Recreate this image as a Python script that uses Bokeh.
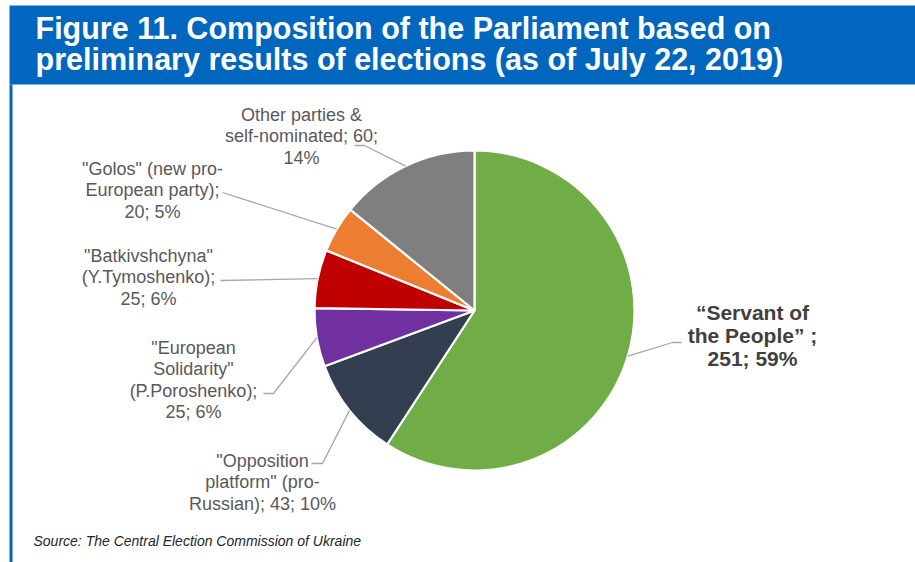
import math
from bokeh.plotting import figure
from bokeh.models import Range1d, ColumnDataSource
from bokeh.core.properties import value
from bokeh.embed import file_html
from bokeh.resources import INLINE

# ---------------- data ----------------
parties = ['"Servant of the People"', '"Opposition platform" (pro-Russian)',
           '"European Solidarity" (P.Poroshenko)', '"Batkivshchyna" (Y.Tymoshenko)',
           '"Golos" (new pro-European party)', 'Other parties & self-nominated']
seats = [251, 43, 25, 25, 20, 60]
colors = ["#70AD47", "#333F50", "#7030A0", "#C00000", "#ED7D31", "#7F7F7F"]
label_lines = [
    ["\u201cServant of", "the People\u201d ;", "251; 59%"],
    ['"Opposition', 'platform" (pro-', 'Russian); 43; 10%'],
    ['"European', 'Solidarity"', '(P.Poroshenko);', '25; 6%'],
    ['"Batkivshchyna"', '(Y.Tymoshenko);', '25; 6%'],
    ['"Golos" (new pro-', 'European party);', '20; 5%'],
    ['Other parties &', 'self-nominated; 60;', '14%'],
]
title_lines = ["Figure 11. Composition of the Parliament based on",
               "preliminary results of elections (as of July 22, 2019)"]
source_text = "Source: The Central Election Commission of Ukraine"

# ---------------- layout ----------------
W, H = 915, 562
def Y(py):
    return H - py

CX, CY, R = 474, 310, 160
label_pos = [(752, 312), (262, 460), (193, 347), (148, 255), (152, 168), (301, 114)]
label_step = [23, 21.5, 21.5, 21.5, 21.5, 21.5]
leader_pts = [
    [(672, 342), (681, 342)],
    [(322, 463), (311, 463)],
    [(273, 393), (263, 393)],
    [(220, 280)],
    [(222, 192)],
    [(364, 145), (354, 145)],
]
FONT = value("Liberation Sans")

p = figure(width=W, height=H, x_range=Range1d(0, W), y_range=Range1d(0, H),
           output_backend="svg", toolbar_location=None,
           x_axis_type=None, y_axis_type=None, min_border=0,
           outline_line_color=None, background_fill_color="white",
           border_fill_color="white")
p.grid.visible = False

# header band and left rule
p.quad(left=[9], right=[W], top=[Y(5)], bottom=[Y(84)], fill_color="#0066BE", line_color=None)
p.quad(left=[9], right=[12], top=[Y(84)], bottom=[Y(H)], fill_color="#0066BE", line_color=None)

for i, t in enumerate(title_lines):
    p.text(x=[35], y=[Y(27 + 31 * i)], text=[t], text_font=FONT, text_font_size="30.5px",
           text_font_style="bold", text_color="white", text_baseline="middle", text_align="left")

# pie (clockwise from 12 o'clock)
total = sum(seats)
starts, ends, mids = [], [], []
acc = 0.0
for s in seats:
    a0 = acc / total * 2 * math.pi
    acc += s
    a1 = acc / total * 2 * math.pi
    starts.append(math.pi / 2 - a1)
    ends.append(math.pi / 2 - a0)
    mids.append((a0 + a1) / 2)

src = ColumnDataSource(dict(start=starts, end=ends, color=colors, party=parties, seats=seats))
p.wedge(x=CX, y=Y(CY), radius=R, start_angle="start", end_angle="end",
        fill_color="color", line_color="white", line_width=2.2, source=src)

# leader lines
for i, m in enumerate(mids):
    ex = CX + R * math.sin(m)
    ey = CY - R * math.cos(m)
    xs = [ex] + [q[0] for q in leader_pts[i]]
    ys = [Y(ey)] + [Y(q[1]) for q in leader_pts[i]]
    p.line(xs, ys, line_color="#A6A6A6", line_width=1.3)

# labels
for i, lines in enumerate(label_lines):
    lx, ly = label_pos[i]
    bold = i == 0
    for j, ln in enumerate(lines):
        p.text(x=[lx], y=[Y(ly + j * label_step[i])], text=[ln], text_font=FONT,
               text_font_size="21px" if bold else "18px",
               text_font_style="bold" if bold else "normal",
               text_color="#404040" if bold else "#595959",
               text_align="center", text_baseline="middle")

p.text(x=[33], y=[Y(540)], text=[source_text], text_font=FONT, text_font_size="14px",
       text_font_style="italic", text_color="#262626", text_align="left", text_baseline="middle")

open("out.html", "w").write(file_html(p, INLINE))
